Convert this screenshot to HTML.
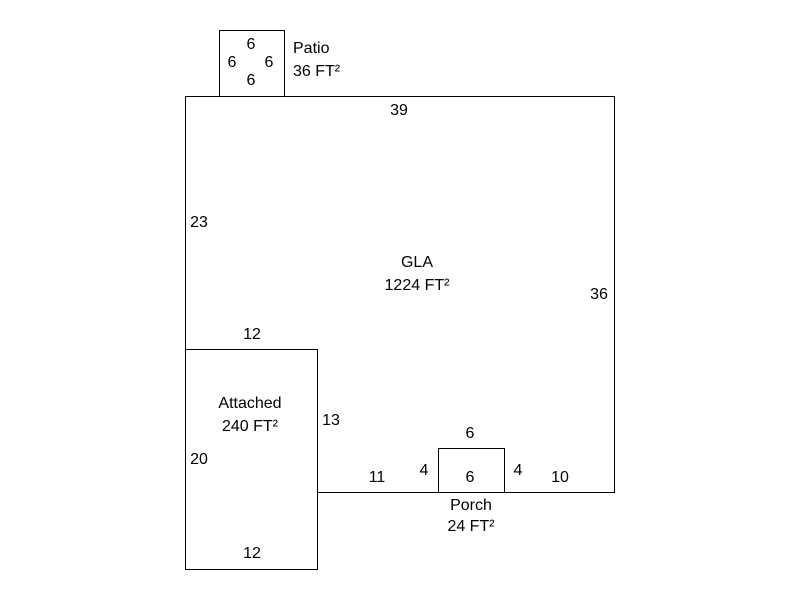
<!DOCTYPE html>
<html><head><style>body{margin:0;background:#fff}svg{display:block}text{font-family:"Liberation Sans",Arial,sans-serif;font-size:16px;fill:#000}</style></head>
<body>
<svg width="800" height="600" xmlns="http://www.w3.org/2000/svg">
<g fill="none" stroke="#000" stroke-width="1">
<rect x="219.5" y="30.5" width="65" height="66"/>
<path d="M185.5 349.5 V96.5 H614.5 V492.5 H317.5"/>
<rect x="185.5" y="349.5" width="132" height="220"/>
<rect x="438.5" y="448.5" width="66" height="44"/>
</g>
<g text-anchor="middle">
<text x="251" y="49">6</text>
<text x="232" y="67">6</text>
<text x="269" y="67">6</text>
<text x="251" y="85">6</text>
<text x="293" y="53" text-anchor="start">Patio</text>
<text x="293" y="76" text-anchor="start">36 FT²</text>
<text x="399" y="115">39</text>
<text x="199" y="227">23</text>
<text x="417" y="267">GLA</text>
<text x="417" y="290">1224 FT²</text>
<text x="599" y="299">36</text>
<text x="252" y="339">12</text>
<text x="250" y="408">Attached</text>
<text x="250" y="431">240 FT²</text>
<text x="331" y="425">13</text>
<text x="199" y="464">20</text>
<text x="470" y="438">6</text>
<text x="377" y="482">11</text>
<text x="424" y="475">4</text>
<text x="470" y="482">6</text>
<text x="518" y="475">4</text>
<text x="560" y="482">10</text>
<text x="471" y="510">Porch</text>
<text x="471" y="531">24 FT²</text>
<text x="252" y="558">12</text>
</g>
</svg>
</body></html>
